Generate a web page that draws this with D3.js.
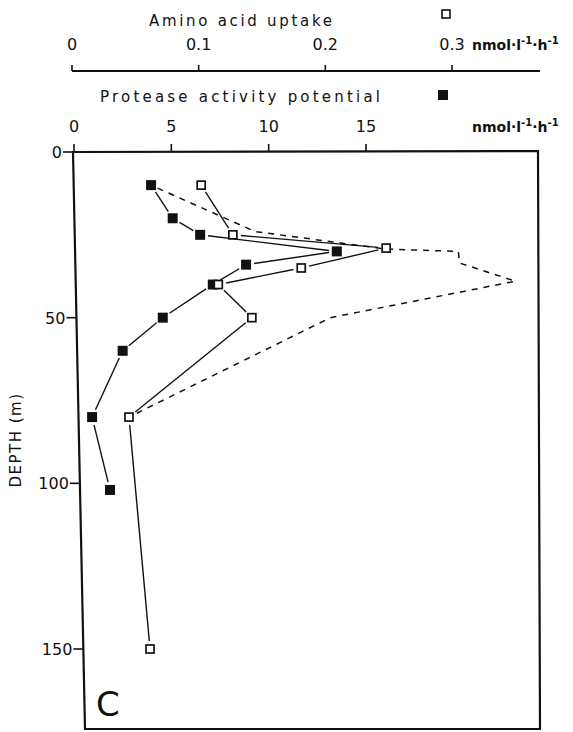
<!DOCTYPE html>
<html>
<head>
<meta charset="utf-8">
<script src="https://cdn.jsdelivr.net/npm/d3@7"></script>
<style>
body { margin: 0; background: #fff; }
text { font-family: "DejaVu Sans", sans-serif; fill: #111; }
</style>
</head>
<body>
<script>
// protease activity potential (filled squares), nmol l-1 h-1
var depthProtease = [10, 20, 25, 30, 34, 40, 50, 60, 80, 102];
var proteaseValues = [3.96, 5.07, 6.48, 13.5, 8.84, 7.13, 4.56, 2.5, 0.93, 1.85];

// amino acid uptake (open squares), nmol l-1 h-1
var depthAmino = [10, 25, 29, 35, 40, 50, 80, 150];
var aminoValues = [0.102, 0.127, 0.248, 0.181, 0.1155, 0.142, 0.045, 0.0616];

// dashed profile, read on the amino acid scale
var depthDashed = [10, 24, 29.3, 30, 33.5, 39, 50, 80];
var dashedValues = [0.062, 0.1445, 0.248, 0.305, 0.306, 0.35, 0.204, 0.045];

var aminoTicks = [0, 0.1, 0.2, 0.3];
var aminoTickLabels = ['0', '0.1', '0.2', '0.3'];
var proteaseTicks = [0, 5, 10, 15];
var depthTicks = [0, 50, 100, 150];

var width = 573, height = 732;
var frameTop = 152, frameBottom = 729, frameRight = 538;

var svg = d3.select('body').append('svg')
	.attr('width', width)
	.attr('height', height);

var xA = d3.scaleLinear().domain([0, 0.3]).range([72, 452]);
var xP = d3.scaleLinear().domain([0, 15]).range([74, 366]);
var y = d3.scaleLinear().domain([0, 150]).range([frameTop, 649]);

// left edge of the scanned frame leans a little
function leftEdge(py) {
	return 73 + (py - frameTop) * 12 / (frameBottom - frameTop);
}

// frame
svg.append('path')
	.attr('d', 'M' + leftEdge(frameTop) + ',' + frameTop +
		'L' + frameRight + ',' + (frameTop - 1) +
		'L' + (frameRight + 2) + ',' + frameBottom +
		'L' + leftEdge(frameBottom) + ',' + frameBottom + 'Z')
	.attr('fill', 'none')
	.attr('stroke', '#111')
	.attr('stroke-width', 2.2);

// ---- amino acid axis (top) ----
var aminoY = 71;
svg.append('line')
	.attr('x1', xA(0)).attr('x2', 540)
	.attr('y1', aminoY).attr('y2', aminoY)
	.attr('stroke', '#111').attr('stroke-width', 2);

svg.selectAll('.aTick')
	.data(aminoTicks)
	.enter()
	.append('line')
	.attr('x1', function(d) { return xA(d); })
	.attr('x2', function(d) { return xA(d); })
	.attr('y1', aminoY).attr('y2', aminoY - 6)
	.attr('stroke', '#111').attr('stroke-width', 1.6);

svg.selectAll('.aLabel')
	.data(aminoTicks)
	.enter()
	.append('text')
	.attr('x', function(d) { return xA(d); })
	.attr('y', 50)
	.attr('text-anchor', 'middle')
	.attr('font-size', 16)
	.text(function(d, i) { return aminoTickLabels[i]; });

svg.append('text')
	.attr('x', 149).attr('y', 26)
	.attr('font-size', 15)
	.attr('textLength', 183)
	.attr('lengthAdjust', 'spacing')
	.text('Amino acid uptake');

svg.append('rect')
	.attr('x', 442).attr('y', 10)
	.attr('width', 8).attr('height', 8)
	.attr('fill', '#fff').attr('stroke', '#111').attr('stroke-width', 1.6);

function unitText(x, yy) {
	var t = svg.append('text')
		.attr('x', x).attr('y', yy)
		.attr('font-size', 14)
		.attr('font-weight', 'bold');
	t.append('tspan').text('nmol·l');
	t.append('tspan').attr('dy', -6).attr('font-size', 10).text('-1');
	t.append('tspan').attr('dy', 6).text('·h');
	t.append('tspan').attr('dy', -6).attr('font-size', 10).text('-1');
}
unitText(472, 50);

// ---- protease axis (frame top) ----
svg.selectAll('.pTick')
	.data(proteaseTicks)
	.enter()
	.append('line')
	.attr('x1', function(d) { return xP(d); })
	.attr('x2', function(d) { return xP(d); })
	.attr('y1', frameTop).attr('y2', frameTop - 8)
	.attr('stroke', '#111').attr('stroke-width', 1.6);

svg.selectAll('.pLabel')
	.data(proteaseTicks)
	.enter()
	.append('text')
	.attr('x', function(d) { return xP(d); })
	.attr('y', 132)
	.attr('text-anchor', 'middle')
	.attr('font-size', 16)
	.text(function(d) { return d; });

svg.append('text')
	.attr('x', 100).attr('y', 102)
	.attr('font-size', 15)
	.attr('textLength', 280)
	.attr('lengthAdjust', 'spacing')
	.text('Protease activity potential');

svg.append('rect')
	.attr('x', 438).attr('y', 90)
	.attr('width', 10).attr('height', 10)
	.attr('fill', '#111');

unitText(472, 132);

// ---- depth axis ----
svg.selectAll('.dTick')
	.data(depthTicks)
	.enter()
	.append('line')
	.attr('x1', function(d) { return leftEdge(y(d)) - 10; })
	.attr('x2', function(d) { return leftEdge(y(d)); })
	.attr('y1', function(d) { return y(d); })
	.attr('y2', function(d) { return y(d); })
	.attr('stroke', '#111').attr('stroke-width', 1.6);

svg.selectAll('.dLabel')
	.data(depthTicks)
	.enter()
	.append('text')
	.attr('x', function(d) { return leftEdge(y(d)) - 11; })
	.attr('y', function(d) { return y(d) + 6; })
	.attr('text-anchor', 'end')
	.attr('font-size', 16)
	.text(function(d) { return d; });

svg.append('text')
	.attr('transform', 'translate(21,440) rotate(-90)')
	.attr('text-anchor', 'middle')
	.attr('font-size', 15)
	.attr('letter-spacing', 1.5)
	.text('DEPTH (m)');

svg.append('text')
	.attr('x', 96).attr('y', 716)
	.attr('font-size', 34)
	.text('C');

// ---- profiles ----
// segments stop short of the markers, as in the drawing
function gapSegments(pts, gap) {
	var segs = [];
	for (var i = 0; i < pts.length - 1; i++) {
		var a = pts[i], b = pts[i + 1];
		var dx = b[0] - a[0], dy = b[1] - a[1];
		var len = Math.sqrt(dx * dx + dy * dy);
		if (len < 2 * gap + 2) continue;
		var ux = dx / len, uy = dy / len;
		segs.push([a[0] + ux * gap, a[1] + uy * gap, b[0] - ux * gap, b[1] - uy * gap]);
	}
	return segs;
}

var dashedPts = dashedValues.map(function(v, i) { return [xA(v), y(depthDashed[i])]; });
svg.append('path')
	.attr('d', d3.line()(dashedPts.map(function(p, i) {
		if (i == 0) return [p[0] + 7, p[1] + 3];
		return p;
	})))
	.attr('fill', 'none')
	.attr('stroke', '#111')
	.attr('stroke-width', 1.5)
	.attr('stroke-dasharray', '6,6');

var aminoPts = aminoValues.map(function(v, i) { return [xA(v), y(depthAmino[i])]; });
var protPts = proteaseValues.map(function(v, i) { return [xP(v), y(depthProtease[i])]; });

svg.selectAll('.aSeg')
	.data(gapSegments(aminoPts, 8))
	.enter()
	.append('line')
	.attr('x1', function(d) { return d[0]; })
	.attr('y1', function(d) { return d[1]; })
	.attr('x2', function(d) { return d[2]; })
	.attr('y2', function(d) { return d[3]; })
	.attr('stroke', '#111').attr('stroke-width', 1.4);

svg.selectAll('.pSeg')
	.data(gapSegments(protPts, 8))
	.enter()
	.append('line')
	.attr('x1', function(d) { return d[0]; })
	.attr('y1', function(d) { return d[1]; })
	.attr('x2', function(d) { return d[2]; })
	.attr('y2', function(d) { return d[3]; })
	.attr('stroke', '#111').attr('stroke-width', 1.4);

svg.selectAll('.pMark')
	.data(protPts)
	.enter()
	.append('rect')
	.attr('x', function(d) { return d[0] - 5; })
	.attr('y', function(d) { return d[1] - 5; })
	.attr('width', 10).attr('height', 10)
	.attr('fill', '#111');

svg.selectAll('.aMark')
	.data(aminoPts)
	.enter()
	.append('rect')
	.attr('x', function(d) { return d[0] - 4; })
	.attr('y', function(d) { return d[1] - 4; })
	.attr('width', 8).attr('height', 8)
	.attr('fill', '#fff').attr('stroke', '#111').attr('stroke-width', 1.7);
</script>
</body>
</html>
